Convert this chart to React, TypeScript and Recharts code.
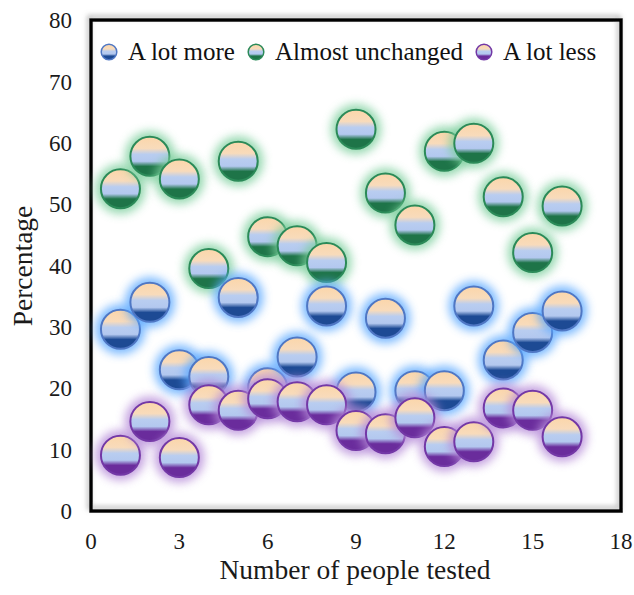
import React from 'react';
import { ScatterChart, Scatter, XAxis, YAxis, ReferenceArea, Legend } from 'recharts';

const people = [1, 2, 3, 4, 5, 6, 7, 8, 9, 10, 11, 12, 13, 14, 15, 16];
const aLotMore = [29.6, 34, 23, 21.9, 34.8, 20.1, 25.1, 33.4, 19.4, 31.4, 19.6, 19.6, 33.4, 24.6, 29.1, 32.6];
const almostUnchanged = [52.5, 57.8, 54.1, 39.5, 57, 44.7, 43.2, 40.5, 62.2, 51.8, 46.6, 58.6, 59.9, 51.2, 42.1, 49.7];
const aLotLess = [9.1, 14.6, 8.7, 17.3, 16.4, 18.3, 17.8, 17.3, 13.1, 12.6, 15.2, 10.5, 11.3, 16.8, 16.4, 12.1];
const xTicks = [0, 3, 6, 9, 12, 15, 18];
const yTicks = [0, 10, 20, 30, 40, 50, 60, 70, 80];

const seriesNames = ['A lot more', 'Almost unchanged', 'A lot less'];

type Style = { key: string; dark: string; stroke: string; glow: string };
const styles: Record<string, Style> = {
  'A lot more': { key: 'more', dark: '#1d4a94', stroke: '#4f77c4', glow: '#5aa8ff' },
  'Almost unchanged': { key: 'same', dark: '#1e7448', stroke: '#2b8a58', glow: '#7ccf9c' },
  'A lot less': { key: 'less', dark: '#6a2c9c', stroke: '#7338a6', glow: '#b58ad8' },
};

const toPoints = (vals: number[]) => people.map((x, i) => ({ x, y: vals[i] }));

const FONT = '"Liberation Serif", "Times New Roman", serif';

function GradientStops({ dark }: { dark: string }) {
  return (
    <>
      <stop offset="0%" stopColor="#fbd6aa" />
      <stop offset="30%" stopColor="#f8dbbb" />
      <stop offset="45%" stopColor="#b9cdf0" />
      <stop offset="63%" stopColor="#b3c8ef" />
      <stop offset="76%" stopColor={dark} />
      <stop offset="100%" stopColor={dark} />
    </>
  );
}

const makeShape = (s: Style) => (props: any) => {
  const { cx, cy } = props;
  if (cx == null || cy == null) return <g />;
  return (
    <g>
      <circle cx={cx} cy={cy} r={25} fill={s.glow} opacity={0.8} filter="url(#glowBlur)" />
      <circle cx={cx} cy={cy} r={19.5} fill={`url(#grad-${s.key})`} stroke={s.stroke} strokeWidth={2} />
    </g>
  );
};

function LegendContent() {
  return (
    <div style={{ display: 'flex', alignItems: 'center', fontFamily: FONT, fontSize: 25, lineHeight: '25px', color: '#111', whiteSpace: 'nowrap' }}>
      {seriesNames.map((name) => {
        const s = styles[name];
        return (
          <div key={name} style={{ display: 'flex', alignItems: 'center', marginRight: 12 }}>
            <svg width={18} height={18} style={{ marginRight: 10 }}>
              <defs>
                <linearGradient id={`lg-${s.key}`} x1="0" y1="0" x2="0" y2="1">
                  <GradientStops dark={s.dark} />
                </linearGradient>
              </defs>
              <circle cx={9} cy={9} r={7.8} fill={`url(#lg-${s.key})`} stroke={s.stroke} strokeWidth={1.5} />
            </svg>
            <span>{name}</span>
          </div>
        );
      })}
    </div>
  );
}

export default function App() {
  return (
    <div style={{ position: 'absolute', left: 0, top: 0, width: 634, height: 595, background: '#fff' }}>
      <ScatterChart width={634} height={595} margin={{ top: 20, right: 13, bottom: 24, left: 31 }}>
        <defs>
          <filter id="glowBlur" x="-50%" y="-50%" width="200%" height="200%">
            <feGaussianBlur stdDeviation="5" />
          </filter>
          <filter id="boxShadow" x="-10%" y="-10%" width="120%" height="120%">
            <feDropShadow dx="-2" dy="-3" stdDeviation="2.5" floodColor="#888" floodOpacity="0.6" />
          </filter>
          {seriesNames.map((name) => (
            <linearGradient key={name} id={`grad-${styles[name].key}`} x1="0" y1="0" x2="0" y2="1">
              <GradientStops dark={styles[name].dark} />
            </linearGradient>
          ))}
        </defs>
        <XAxis
          type="number"
          dataKey="x"
          domain={[0, 18]}
          ticks={xTicks}
          axisLine={false}
          tickLine={false}
          tickMargin={16}
          height={60}
          tick={{ fontFamily: FONT, fontSize: 23, fill: '#1a1a1a' }}
          interval={0}
          label={{
            content: () => (
              <text x={355} y={579} textAnchor="middle" fontFamily={FONT} fontSize={27.5} fill="#1a1a1a">
                Number of people tested
              </text>
            ),
          }}
        />
        <YAxis
          type="number"
          dataKey="y"
          domain={[0, 80]}
          ticks={yTicks}
          axisLine={false}
          tickLine={false}
          tickMargin={13}
          width={60}
          interval={0}
          tick={{ fontFamily: FONT, fontSize: 23, fill: '#1a1a1a' }}
          label={{
            content: () => (
              <text x={32} y={266} transform="rotate(-90 32 266)" textAnchor="middle" fontFamily={FONT} fontSize={27.5} fill="#1a1a1a">
                Percentage
              </text>
            ),
          }}
        />
        <ReferenceArea x1={0} x2={18} y1={0} y2={80} fill="none" stroke="#000" strokeWidth={3.5} filter="url(#boxShadow)" ifOverflow="extendDomain" />
        <Legend
          layout="vertical"
          align="center"
          verticalAlign="middle"
          wrapperStyle={{ left: 100, top: 39, width: 'auto' }}
          content={() => <LegendContent />}
        />
        <Scatter name="Almost unchanged" data={toPoints(almostUnchanged)} shape={makeShape(styles['Almost unchanged'])} isAnimationActive={false} />
        <Scatter name="A lot more" data={toPoints(aLotMore)} shape={makeShape(styles['A lot more'])} isAnimationActive={false} />
        <Scatter name="A lot less" data={toPoints(aLotLess)} shape={makeShape(styles['A lot less'])} isAnimationActive={false} />
      </ScatterChart>
    </div>
  );
}
